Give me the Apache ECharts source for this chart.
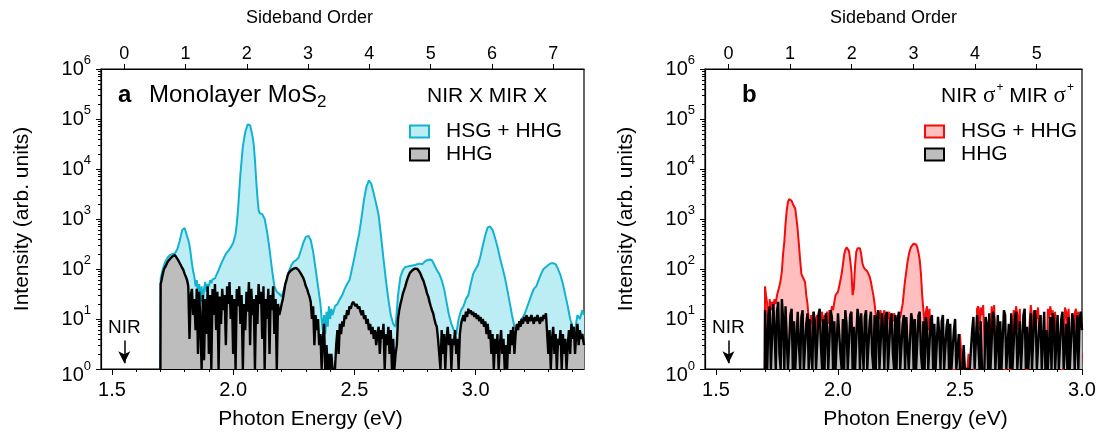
<!DOCTYPE html>
<html>
<head>
<meta charset="utf-8">
<script src="https://cdn.jsdelivr.net/npm/echarts@6/dist/echarts.min.js"></script>
<style>
html, body { margin: 0; padding: 0; background: #fff; }
#chart { width: 1099px; height: 435px; }
</style>
</head>
<body>
<div id="chart"></div>
<script>
// ---------- data ----------
const nirEnergy = 1.551;   // eV, sideband order 0
const mirEnergy = 0.2527;  // eV, spacing between sideband orders
const nirArrow = [3.7, 1.3]; // arrow from / to (intensity)

const energyTicks = [1.5, 2.0, 2.5, 3.0];
const energyMinorA = [1.6, 1.7, 1.8, 1.9, 2.1, 2.2, 2.3, 2.4, 2.6, 2.7, 2.8, 2.9, 3.1, 3.2, 3.3, 3.4];
const energyMinorB = [1.6, 1.7, 1.8, 1.9, 2.1, 2.2, 2.3, 2.4, 2.6, 2.7, 2.8, 2.9];
const orderTicksA = [0, 1, 2, 3, 4, 5, 6, 7];
const orderTicksB = [0, 1, 2, 3, 4, 5];
const decadeTicks = [1, 10, 100, 1e3, 1e4, 1e5, 1e6];
const logMinorTicks = [
    2, 3, 4, 5, 6, 7, 8, 9,
    20, 30, 40, 50, 60, 70, 80, 90,
    200, 300, 400, 500, 600, 700, 800, 900,
    2e3, 3e3, 4e3, 5e3, 6e3, 7e3, 8e3, 9e3,
    2e4, 3e4, 4e4, 5e4, 6e4, 7e4, 8e4, 9e4,
    2e5, 3e5, 4e5, 5e5, 6e5, 7e5, 8e5, 9e5,
];

// panel a: NIR X MIR X, [energy eV, intensity]
const hsgHhgA = [
    [1.700,1],[1.701,65],[1.705,70],[1.71,100],[1.72,140],[1.73,170],[1.74,190],[1.75,200],[1.76,205],[1.77,250],
    [1.78,370],[1.79,600],[1.80,660],[1.805,620],[1.81,450],[1.815,380],[1.82,300],[1.825,200],[1.83,130],[1.835,90],
    [1.84,70],[1.845,45],[1.85,60],[1.855,30],[1.86,50],[1.865,22],[1.87,45],[1.875,20],[1.88,40],[1.885,55],
    [1.89,35],[1.895,50],[1.90,45],[1.905,60],[1.91,52],[1.915,62],[1.92,58],[1.925,65],[1.93,70],[1.94,95],
    [1.95,125],[1.96,160],[1.97,200],[1.98,230],[1.99,270],[2.00,330],[2.01,500],[2.015,800],[2.02,1500],[2.03,8000],
    [2.04,28000],[2.05,55000],[2.06,78000],[2.065,82000],[2.07,75000],[2.08,45000],[2.085,30000],[2.09,15000],[2.095,6000],[2.10,2800],
    [2.105,1500],[2.11,1300],[2.12,1250],[2.13,1000],[2.14,550],[2.15,250],[2.16,100],[2.17,45],[2.18,35],[2.19,32],
    [2.20,28],[2.21,40],[2.22,60],[2.23,90],[2.24,120],[2.25,140],[2.26,150],[2.27,170],[2.28,240],[2.29,340],
    [2.30,440],[2.31,460],[2.32,380],[2.33,220],[2.34,100],[2.35,45],[2.355,30],[2.36,20],[2.365,10],[2.37,6],
    [2.375,12],[2.38,5],[2.385,14],[2.39,7],[2.395,18],[2.40,10],[2.405,16],[2.41,12],[2.42,18],[2.43,20],
    [2.44,25],[2.45,30],[2.46,40],[2.47,50],[2.48,60],[2.49,100],[2.50,170],[2.51,300],[2.52,520],[2.53,1100],
    [2.54,2500],[2.55,4500],[2.56,5900],[2.565,5800],[2.57,5000],[2.58,3200],[2.59,2000],[2.60,1200],[2.61,450],[2.62,160],
    [2.63,60],[2.64,25],[2.65,12],[2.66,8],[2.67,7],[2.68,30],[2.69,70],[2.70,95],[2.71,110],[2.72,112],
    [2.73,115],[2.74,118],[2.75,120],[2.76,125],[2.77,128],[2.78,125],[2.79,140],[2.80,150],[2.81,155],[2.82,150],
    [2.83,120],[2.84,95],[2.85,80],[2.86,60],[2.87,40],[2.88,22],[2.89,12],[2.90,8],[2.91,6],[2.92,5],
    [2.93,10],[2.94,15],[2.95,18],[2.96,25],[2.97,30],[2.98,50],[2.99,80],[3.00,100],[3.01,120],[3.02,180],
    [3.03,300],[3.04,480],[3.05,680],[3.06,710],[3.07,600],[3.08,420],[3.09,280],[3.10,170],[3.11,110],[3.12,70],
    [3.13,40],[3.14,22],[3.15,12],[3.16,7],[3.17,6],[3.18,8],[3.19,10],[3.20,12],[3.21,16],[3.22,22],
    [3.23,30],[3.24,40],[3.25,45],[3.26,60],[3.27,80],[3.28,100],[3.29,110],[3.30,120],[3.31,130],[3.32,130],
    [3.33,125],[3.34,100],[3.35,75],[3.36,50],[3.37,30],[3.38,18],[3.39,10],[3.40,7],[3.41,6],[3.42,12],
    [3.43,10],[3.44,15],[3.447,12],
];
const hhgA = [
    [1.700,1],[1.701,50],[1.705,60],[1.71,80],[1.715,100],[1.72,110],[1.725,120],[1.73,140],[1.735,150],[1.74,160],
    [1.745,170],[1.75,180],[1.755,185],[1.76,190],[1.765,180],[1.77,160],[1.775,150],[1.78,130],[1.785,120],[1.79,105],
    [1.795,95],[1.80,80],[1.805,70],[1.81,60],[1.815,45],[1.82,4],[1.825,30],[1.83,40],[1.835,12],[1.84,25],
    [1.845,6],[1.85,40],[1.855,2],[1.86,35],[1.865,8],[1.87,1],[1.875,30],[1.88,1.5],[1.885,25],[1.89,5],
    [1.895,45],[1.90,2],[1.905,30],[1.91,1],[1.915,40],[1.92,12],[1.925,50],[1.93,6],[1.935,35],[1.94,1],
    [1.945,28],[1.95,8],[1.955,40],[1.96,15],[1.965,30],[1.97,3],[1.975,45],[1.98,20],[1.985,55],[1.99,10],
    [1.995,30],[2.00,2],[2.005,25],[2.01,1],[2.015,40],[2.02,18],[2.025,45],[2.03,8],[2.035,30],[2.04,1],
    [2.045,20],[2.05,6],[2.055,35],[2.06,14],[2.065,55],[2.07,3],[2.075,40],[2.08,12],[2.085,25],[2.09,1],
    [2.095,30],[2.10,8],[2.105,50],[2.11,20],[2.115,35],[2.12,4],[2.125,45],[2.13,1],[2.135,25],[2.14,10],
    [2.145,40],[2.15,2],[2.155,30],[2.16,15],[2.165,45],[2.17,5],[2.175,25],[2.18,1],[2.185,20],[2.19,12],
    [2.195,15],[2.20,20],[2.205,25],[2.21,35],[2.215,50],[2.22,60],[2.225,75],[2.23,85],[2.235,90],[2.24,95],
    [2.245,100],[2.25,102],[2.255,105],[2.26,105],[2.265,102],[2.27,95],[2.275,90],[2.28,80],[2.285,72],[2.29,65],
    [2.295,55],[2.30,45],[2.305,40],[2.31,33],[2.315,28],[2.32,22],[2.325,10],[2.33,18],[2.335,3],[2.34,12],
    [2.345,6],[2.35,10],[2.355,3],[2.36,5],[2.365,1],[2.37,4],[2.375,8],[2.38,1],[2.385,3],[2.39,1],
    [2.395,2],[2.40,1],[2.405,2],[2.41,1],[2.415,1],[2.42,1],[2.425,3],[2.43,6],[2.435,2],[2.44,8],
    [2.445,5],[2.45,9],[2.455,7],[2.46,12],[2.465,10],[2.47,15],[2.475,12],[2.48,18],[2.485,16],[2.49,20],
    [2.495,22],[2.50,20],[2.505,18],[2.51,20],[2.515,16],[2.52,18],[2.525,14],[2.53,12],[2.535,15],[2.54,10],
    [2.545,12],[2.55,8],[2.555,10],[2.56,6],[2.565,8],[2.57,5],[2.575,7],[2.58,4],[2.585,6],[2.59,3],
    [2.595,5],[2.60,7],[2.605,2],[2.61,6],[2.615,4],[2.62,8],[2.625,1],[2.63,5],[2.635,3],[2.64,7],
    [2.645,2],[2.65,6],[2.655,1],[2.66,4],[2.665,1],[2.67,2],[2.675,3],[2.68,10],[2.685,15],[2.69,20],
    [2.695,25],[2.70,32],[2.705,38],[2.71,45],[2.715,55],[2.72,65],[2.725,75],[2.73,85],[2.735,90],[2.74,95],
    [2.745,100],[2.75,102],[2.755,105],[2.76,100],[2.765,95],[2.77,85],[2.775,75],[2.78,65],[2.785,58],[2.79,48],
    [2.795,40],[2.80,32],[2.805,28],[2.81,22],[2.815,18],[2.82,15],[2.825,13],[2.83,10],[2.835,8],[2.84,7],
    [2.845,4],[2.85,2],[2.855,1],[2.86,6],[2.865,2],[2.87,5],[2.875,1],[2.88,4],[2.885,7],[2.89,3],
    [2.895,5],[2.90,1],[2.905,4],[2.91,3],[2.915,6],[2.92,2],[2.925,4],[2.93,1],[2.935,5],[2.94,8],
    [2.945,10],[2.95,12],[2.955,9],[2.96,14],[2.965,11],[2.97,16],[2.975,13],[2.98,15],[2.985,12],[2.99,14],
    [2.995,11],[3.00,13],[3.005,10],[3.01,12],[3.015,9],[3.02,11],[3.025,8],[3.03,10],[3.035,7],[3.04,9],
    [3.045,5],[3.05,8],[3.055,4],[3.06,6],[3.065,2],[3.07,5],[3.075,1],[3.08,4],[3.085,2],[3.09,5],
    [3.095,1],[3.10,3],[3.105,6],[3.11,2],[3.115,4],[3.12,1],[3.125,3],[3.13,1],[3.135,5],[3.14,2],
    [3.145,6],[3.15,3],[3.155,7],[3.16,2],[3.165,5],[3.17,8],[3.175,6],[3.18,9],[3.185,7],[3.19,10],
    [3.195,8],[3.20,11],[3.205,9],[3.21,12],[3.215,8],[3.22,11],[3.225,9],[3.23,12],[3.235,10],[3.24,8],
    [3.245,11],[3.25,9],[3.255,12],[3.26,10],[3.265,8],[3.27,11],[3.275,9],[3.28,12],[3.285,10],[3.29,13],
    [3.295,12],[3.30,2],[3.305,6],[3.31,1],[3.315,4],[3.32,7],[3.325,2],[3.33,5],[3.335,1],[3.34,4],
    [3.345,3],[3.35,6],[3.355,1],[3.36,5],[3.365,2],[3.37,4],[3.375,1],[3.38,3],[3.385,6],[3.39,2],
    [3.395,8],[3.40,4],[3.405,7],[3.41,2],[3.415,5],[3.42,8],[3.425,3],[3.43,6],[3.435,4],[3.44,5],
    [3.447,3],
];

// panel b: NIR sigma+ MIR sigma+
const hsgHhgB = [
    [1.700,1],[1.701,45],[1.705,30],[1.71,20],[1.715,1],[1.72,25],[1.725,15],[1.73,22],[1.735,18],[1.74,25],
    [1.745,20],[1.75,30],[1.755,32],[1.76,45],[1.765,60],[1.77,90],[1.775,200],[1.78,350],[1.785,800],[1.79,1500],
    [1.795,2200],[1.80,2500],[1.805,2500],[1.81,2300],[1.815,2000],[1.82,1900],[1.825,1600],[1.83,1000],[1.835,600],[1.84,300],
    [1.845,150],[1.85,80],[1.855,70],[1.86,65],[1.865,55],[1.87,30],[1.875,20],[1.88,10],[1.885,4],[1.89,12],
    [1.895,8],[1.90,14],[1.905,1],[1.91,10],[1.915,12],[1.92,6],[1.925,13],[1.93,9],[1.935,14],[1.94,5],
    [1.945,12],[1.95,10],[1.955,14],[1.96,8],[1.965,15],[1.97,12],[1.975,18],[1.98,15],[1.985,22],[1.99,30],
    [1.995,32],[2.00,35],[2.005,45],[2.01,60],[2.015,80],[2.02,120],[2.025,190],[2.03,240],[2.035,270],[2.04,270],
    [2.045,230],[2.05,150],[2.055,90],[2.06,30],[2.065,40],[2.07,120],[2.075,220],[2.08,260],[2.085,280],[2.09,260],
    [2.095,200],[2.10,130],[2.105,110],[2.11,100],[2.115,95],[2.12,90],[2.125,85],[2.13,70],[2.135,55],[2.14,40],
    [2.145,30],[2.15,20],[2.155,12],[2.16,8],[2.165,14],[2.17,10],[2.175,15],[2.18,3],[2.185,12],[2.19,15],
    [2.195,6],[2.20,13],[2.205,10],[2.21,14],[2.215,4],[2.22,12],[2.225,9],[2.23,13],[2.235,11],[2.24,6],
    [2.245,12],[2.25,10],[2.255,11],[2.26,12],[2.265,20],[2.27,35],[2.275,60],[2.28,90],[2.285,140],[2.29,190],
    [2.295,240],[2.30,280],[2.305,300],[2.31,320],[2.315,320],[2.32,310],[2.325,270],[2.33,210],[2.335,150],[2.34,80],
    [2.345,30],[2.35,15],[2.355,8],[2.36,14],[2.365,18],[2.37,6],[2.375,16],[2.38,3],[2.385,1],[2.39,5],
    [2.395,1],[2.40,1],[2.405,4],[2.41,1],[2.415,1],[2.42,3],[2.425,1],[2.43,1],[2.435,2],[2.44,1],
    [2.445,1],[2.45,3],[2.455,1],[2.46,1],[2.465,2],[2.47,1],[2.475,1],[2.48,1],[2.485,2],[2.49,1],
    [2.495,1],[2.50,5],[2.505,2],[2.51,1],[2.515,1],[2.52,1],[2.525,1],[2.53,1],[2.535,2],[2.54,1],
    [2.545,1],[2.55,3],[2.555,1],[2.56,1],[2.565,1],[2.57,16],[2.575,18],[2.58,6],[2.585,17],[2.59,12],
    [2.595,19],[2.60,4],[2.605,1],[2.61,1],[2.615,2],[2.62,1],[2.625,1],[2.63,18],[2.635,8],[2.64,19],
    [2.645,3],[2.65,1],[2.655,1],[2.66,2],[2.665,1],[2.67,1],[2.675,3],[2.68,1],[2.685,1],[2.69,1],
    [2.695,2],[2.70,1],[2.705,1],[2.71,1],[2.715,4],[2.72,15],[2.725,9],[2.73,18],[2.735,12],[2.74,6],
    [2.745,16],[2.75,2],[2.755,1],[2.76,1],[2.765,2],[2.77,1],[2.775,1],[2.78,1],[2.785,8],[2.79,19],
    [2.795,12],[2.80,3],[2.805,1],[2.81,15],[2.815,10],[2.82,17],[2.825,5],[2.83,12],[2.835,2],[2.84,1],
    [2.845,1],[2.85,2],[2.855,1],[2.86,16],[2.865,10],[2.87,18],[2.875,12],[2.88,15],[2.885,6],[2.89,14],
    [2.895,2],[2.90,1],[2.905,1],[2.91,3],[2.915,1],[2.92,1],[2.925,1],[2.93,17],[2.935,14],[2.94,8],
    [2.945,16],[2.95,4],[2.955,1],[2.96,2],[2.965,1],[2.97,13],[2.975,16],[2.98,9],[2.985,14],[2.99,3],
    [2.995,1],[3.00,2],
];
const hhgB = [
    [1.700,1],[1.701,15],[1.705,4],[1.71,1],[1.715,12],[1.72,18],[1.725,1],[1.73,1],[1.735,20],[1.74,6],
    [1.745,1],[1.75,14],[1.755,22],[1.76,2],[1.765,1],[1.77,25],[1.775,10],[1.78,1],[1.785,18],[1.79,4],
    [1.795,1],[1.80,1],[1.805,12],[1.81,16],[1.815,1],[1.82,9],[1.825,1],[1.83,1],[1.835,14],[1.84,3],
    [1.845,1],[1.85,11],[1.855,15],[1.86,1],[1.865,1],[1.87,8],[1.875,13],[1.88,1],[1.885,10],[1.89,2],
    [1.895,1],[1.90,14],[1.905,9],[1.91,1],[1.915,1],[1.92,12],[1.925,16],[1.93,3],[1.935,1],[1.94,10],
    [1.945,1],[1.95,13],[1.955,7],[1.96,1],[1.965,1],[1.97,15],[1.975,11],[1.98,1],[1.985,9],[1.99,1],
    [1.995,1],[2.00,13],[2.005,14],[2.01,2],[2.015,1],[2.02,10],[2.025,1],[2.03,15],[2.035,8],[2.04,1],
    [2.045,1],[2.05,12],[2.055,14],[2.06,1],[2.065,7],[2.07,1],[2.075,1],[2.08,16],[2.085,10],[2.09,1],
    [2.095,13],[2.10,3],[2.105,1],[2.11,11],[2.115,15],[2.12,1],[2.125,1],[2.13,9],[2.135,14],[2.14,2],
    [2.145,1],[2.15,12],[2.155,1],[2.16,10],[2.165,15],[2.17,1],[2.175,1],[2.18,13],[2.185,6],[2.19,1],
    [2.195,11],[2.20,14],[2.205,1],[2.21,1],[2.215,9],[2.22,13],[2.225,2],[2.23,1],[2.235,12],[2.24,1],
    [2.245,10],[2.25,14],[2.255,1],[2.26,1],[2.265,8],[2.27,12],[2.275,1],[2.28,11],[2.285,3],[2.29,1],
    [2.295,1],[2.30,13],[2.305,9],[2.31,1],[2.315,10],[2.32,1],[2.325,1],[2.33,12],[2.335,14],[2.34,2],
    [2.345,1],[2.35,9],[2.355,1],[2.36,11],[2.365,6],[2.37,1],[2.375,1],[2.38,10],[2.385,12],[2.39,1],
    [2.395,8],[2.40,1],[2.405,1],[2.41,11],[2.415,5],[2.42,1],[2.425,9],[2.43,12],[2.435,1],[2.44,1],
    [2.445,7],[2.45,10],[2.455,1],[2.46,8],[2.465,1],[2.47,1],[2.475,6],[2.48,10],[2.485,1],[2.49,1],
    [2.495,5],[2.50,1],[2.505,1],[2.51,1],[2.515,3],[2.52,1],[2.525,1],[2.53,1],[2.535,1],[2.54,1],
    [2.545,1],[2.55,6],[2.555,11],[2.56,1],[2.565,1],[2.57,12],[2.575,3],[2.58,1],[2.585,9],[2.59,1],
    [2.595,1],[2.60,1],[2.605,11],[2.61,8],[2.615,1],[2.62,13],[2.625,1],[2.63,1],[2.635,14],[2.64,10],
    [2.645,1],[2.65,1],[2.655,12],[2.66,1],[2.665,9],[2.67,1],[2.675,1],[2.68,15],[2.685,12],[2.69,1],
    [2.695,1],[2.70,8],[2.705,1],[2.71,13],[2.715,1],[2.72,1],[2.725,10],[2.73,14],[2.735,1],[2.74,1],
    [2.745,9],[2.75,1],[2.755,1],[2.76,12],[2.765,16],[2.77,1],[2.775,7],[2.78,1],[2.785,1],[2.79,13],
    [2.795,1],[2.80,1],[2.805,15],[2.81,11],[2.815,1],[2.82,1],[2.825,8],[2.83,12],[2.835,1],[2.84,1],
    [2.845,14],[2.85,1],[2.855,6],[2.86,1],[2.865,1],[2.87,11],[2.875,1],[2.88,13],[2.885,9],[2.89,1],
    [2.895,1],[2.90,12],[2.905,1],[2.91,1],[2.915,10],[2.92,14],[2.925,1],[2.93,1],[2.935,8],[2.94,1],
    [2.945,11],[2.95,1],[2.955,1],[2.96,13],[2.965,9],[2.97,1],[2.975,1],[2.98,12],[2.985,1],[2.99,10],
    [2.995,14],[3.00,6],
];

// ---------- styling ----------
const FONT = "'Liberation Sans', Arial, sans-serif";
const COLORS = {
    cyanLine: '#12b3d1',
    cyanFill: '#bdedf4',
    redLine: '#f20c0c',
    redFill: '#ffbfbf',
    grayFill: '#bdbdbd',
};

/**
 * 10^n 形式的对数轴标签
 */
function powerLabel(value) {
    const e = Math.round(Math.log10(value));
    return e === 0 ? '{m0|10}{e0|0}' : '{m|10}{e|' + e + '}';
}

/**
 * 一个面板需要的坐标轴：底部能量轴、次刻度轴、顶部 sideband order 轴
 * shiftBottom / shiftTop: 轴标题相对中心的水平偏移（负数向左）
 */
function panelXAxes(gridIndex, xMin, xMax, minorTicks, orderTicks, shiftBottom, shiftTop) {
    const lineStyle = { color: '#000', width: 1.2 };
    const shiftPad = s => (s < 0 ? [0, -2 * s, 0, 0] : [0, 0, 0, 2 * s]);
    return [
        {
            type: 'value', gridIndex: gridIndex, position: 'bottom',
            min: xMin, max: xMax,
            name: 'Photon Energy (eV)', nameLocation: 'middle', nameGap: 40,
            nameTextStyle: { fontSize: 21, color: '#000', fontFamily: FONT, padding: shiftPad(shiftBottom) },
            axisLine: { onZero: false, lineStyle: lineStyle },
            axisTick: { customValues: energyTicks, length: 6, lineStyle: { color: '#000' } },
            axisLabel: {
                customValues: energyTicks, fontSize: 20, color: '#000', fontFamily: FONT, margin: 11,
                formatter: v => v.toFixed(1),
            },
            splitLine: { show: false },
        },
        {
            type: 'value', gridIndex: gridIndex, position: 'bottom',
            min: xMin, max: xMax,
            axisLine: { show: false, onZero: false },
            axisTick: { customValues: minorTicks, length: 3, lineStyle: { color: '#000' } },
            axisLabel: { show: false },
            splitLine: { show: false },
        },
        {
            type: 'value', gridIndex: gridIndex, position: 'top',
            min: (xMin - nirEnergy) / mirEnergy, max: (xMax - nirEnergy) / mirEnergy,
            name: 'Sideband Order', nameLocation: 'middle', nameGap: 42,
            nameTextStyle: { fontSize: 18, color: '#000', fontFamily: FONT, padding: shiftPad(shiftTop) },
            axisLine: { onZero: false, lineStyle: lineStyle },
            axisTick: { customValues: orderTicks, length: 5, lineStyle: { color: '#000' } },
            axisLabel: { customValues: orderTicks, fontSize: 18, color: '#000', fontFamily: FONT, margin: 6 },
            splitLine: { show: false },
        },
    ];
}

function panelYAxes(gridIndex) {
    return [
        {
            type: 'log', logBase: 10, gridIndex: gridIndex, position: 'left',
            min: 1, max: 1e6,
            name: 'Intensity (arb. units)', nameLocation: 'middle', nameGap: 68,
            nameTextStyle: { fontSize: 21, color: '#000', fontFamily: FONT },
            axisLine: { show: true, onZero: false, lineStyle: { color: '#000', width: 1.2 } },
            axisTick: { customValues: decadeTicks, length: 5, lineStyle: { color: '#000' } },
            axisLabel: {
                customValues: decadeTicks, margin: 10, color: '#000', fontFamily: FONT,
                formatter: powerLabel,
                rich: {
                    m: { fontSize: 20, fontFamily: FONT },
                    e: { fontSize: 13, fontFamily: FONT, padding: [0, 0, 18, 0] },
                    m0: { fontSize: 20, fontFamily: FONT, padding: [12, 0, 0, 0] },
                    e0: { fontSize: 13, fontFamily: FONT, padding: [0, 0, 6, 0] },
                },
            },
            splitLine: { show: false },
        },
        {
            type: 'log', logBase: 10, gridIndex: gridIndex, position: 'left',
            min: 1, max: 1e6,
            axisLine: { show: false, onZero: false },
            axisTick: { customValues: logMinorTicks, length: 3, lineStyle: { color: '#000' } },
            axisLabel: { show: false },
            splitLine: { show: false },
        },
    ];
}

/**
 * 一个面板的两条曲线：HSG + HHG（彩色）和 HHG（黑线灰底）
 */
function panelSeries(prefix, xIdx, yIdx, hsgData, hhgData, lineColor, fillColor) {
    return [
        {
            name: prefix + 'HSG + HHG', type: 'line',
            xAxisIndex: xIdx, yAxisIndex: yIdx,
            data: hsgData, showSymbol: false, symbol: 'none',
            lineStyle: { color: lineColor, width: 2 },
            itemStyle: { color: fillColor },
            areaStyle: { color: fillColor, opacity: 1, origin: 'start' },
            z: 2,
        },
        {
            name: prefix + 'HHG', type: 'line',
            xAxisIndex: xIdx, yAxisIndex: yIdx,
            data: hhgData, showSymbol: false, symbol: 'none',
            lineStyle: { color: '#000', width: 2.4 },
            itemStyle: { color: COLORS.grayFill },
            areaStyle: { color: COLORS.grayFill, opacity: 1, origin: 'start' },
            z: 3,
            markLine: {
                silent: true, animation: false,
                symbol: ['none', 'arrow'], symbolSize: [9, 12],
                lineStyle: { color: '#000', width: 1.5, type: 'solid' },
                label: {
                    show: true, position: 'start', formatter: 'NIR',
                    color: '#000', fontSize: 19, fontFamily: FONT, distance: 3,
                },
                data: [[{ coord: [nirEnergy, nirArrow[0]] }, { coord: [nirEnergy, nirArrow[1]] }]],
            },
        },
    ];
}

function panelLegend(prefix, left, lineColor, fillColor) {
    return {
        left: left, top: 116, orient: 'vertical',
        itemWidth: 19, itemHeight: 12, itemGap: 2,
        selectedMode: false, icon: 'rect',
        formatter: name => name.slice(prefix.length),
        textStyle: { fontSize: 21, color: '#000', fontFamily: FONT, padding: [0, 0, 0, 12] },
        data: [
            { name: prefix + 'HSG + HHG', itemStyle: { color: fillColor, borderColor: lineColor, borderWidth: 2 } },
            { name: prefix + 'HHG', itemStyle: { color: COLORS.grayFill, borderColor: '#000', borderWidth: 2 } },
        ],
    };
}

function drawChart() {
    const chart = echarts.init(document.getElementById('chart'), null, { renderer: 'canvas' });
    const option = {
        animation: false,
        backgroundColor: '#fff',
        textStyle: { fontFamily: FONT },
        grid: [
            { left: 101, top: 69, width: 483, height: 305, show: true, borderColor: '#000', borderWidth: 1.2 },
            { left: 705, top: 69, width: 377, height: 305, show: true, borderColor: '#000', borderWidth: 1.2 },
        ],
        xAxis: [
            ...panelXAxes(0, 1.455, 3.447, energyMinorA, orderTicksA, -32, -33),
            ...panelXAxes(1, 1.455, 3.0, energyMinorB, orderTicksB, 22, 0),
        ],
        yAxis: [...panelYAxes(0), ...panelYAxes(1)],
        legend: [
            panelLegend('a ', 404, COLORS.cyanLine, COLORS.cyanFill),
            panelLegend('b ', 919, COLORS.redLine, COLORS.redFill),
        ],
        series: [
            ...panelSeries('a ', 0, 0, hsgHhgA, hhgA, COLORS.cyanLine, COLORS.cyanFill),
            ...panelSeries('b ', 3, 2, hsgHhgB, hhgB, COLORS.redLine, COLORS.redFill),
        ],
        graphic: [
            {
                type: 'text', x: 118, y: 95,
                style: { text: 'a', font: 'bold 24px ' + FONT, fill: '#000', verticalAlign: 'middle' },
            },
            {
                type: 'text', x: 149, y: 95,
                style: {
                    text: '{t|Monolayer MoS}{s|2}', verticalAlign: 'middle', fill: '#000',
                    rich: {
                        t: { fontSize: 24, fontFamily: FONT, fill: '#000' },
                        s: { fontSize: 17, fontFamily: FONT, fill: '#000', padding: [14, 0, 0, 0] },
                    },
                },
            },
            {
                type: 'text', x: 427, y: 96,
                style: { text: 'NIR X MIR X', font: '21px ' + FONT, fill: '#000', verticalAlign: 'middle' },
            },
            {
                type: 'text', x: 742, y: 95,
                style: { text: 'b', font: 'bold 24px ' + FONT, fill: '#000', verticalAlign: 'middle' },
            },
            {
                type: 'text', x: 1074, y: 96,
                style: {
                    text: '{t|NIR }{g|σ}{p|+}{t| MIR }{g|σ}{p|+}',
                    align: 'right', verticalAlign: 'middle', fill: '#000',
                    rich: {
                        t: { fontSize: 21, fontFamily: FONT, fill: '#000' },
                        g: { fontSize: 23, fontFamily: "'Liberation Serif', serif", fill: '#000' },
                        p: { fontSize: 12, fontFamily: FONT, fill: '#000', padding: [0, 0, 16, 1] },
                    },
                },
            },
        ],
    };
    chart.setOption(option);
    return chart;
}

drawChart();
</script>
</body>
</html>
